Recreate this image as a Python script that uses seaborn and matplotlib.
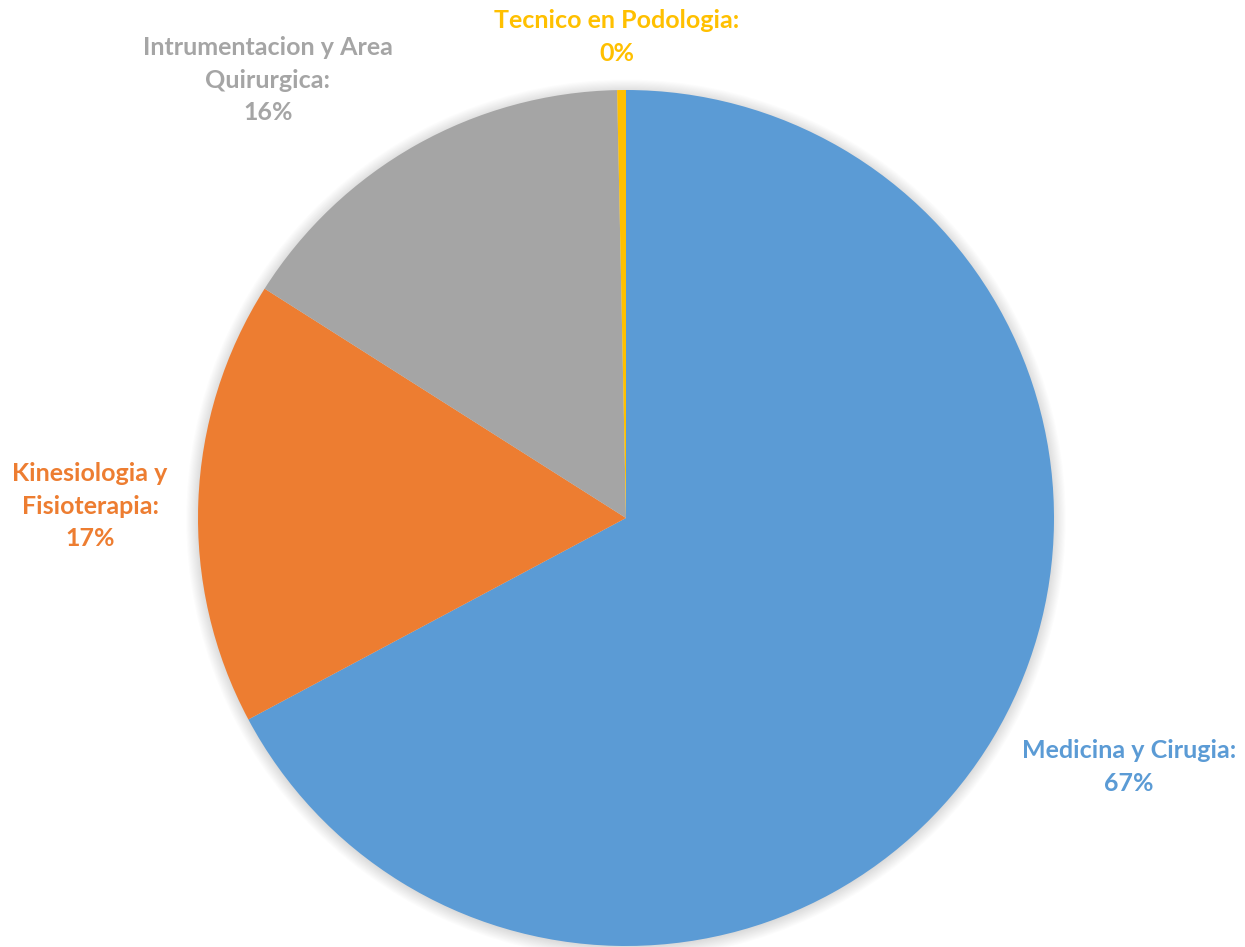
import matplotlib
matplotlib.use("Agg")
import matplotlib.pyplot as plt
from matplotlib.patches import Circle
import seaborn as sns

# datos (porcentajes)
carreras = ["Medicina y Cirugia", "Kinesiologia y\nFisioterapia",
            "Intrumentacion y Area\nQuirurgica", "Tecnico en Podologia"]
porcentajes = [67.2, 16.8, 15.67, 0.33]
etiquetas_pct = ["67%", "17%", "16%", "0%"]
colores = ["#5B9BD5", "#ED7D31", "#A5A5A5", "#FFC000"]

sns.set_theme(style="white")
plt.rcParams['font.family'] = ['Lato', 'DejaVu Sans']

W, H = 1245, 947
fig = plt.figure(figsize=(W / 100, H / 100), dpi=100)
cx, cy, r = 626, 518, 428
ax = fig.add_axes([(cx - r) / W, (H - cy - r) / H, 2 * r / W, 2 * r / H])
ax.set_xlim(-1, 1)
ax.set_ylim(-1, 1)
ax.set_aspect('equal')
ax.axis('off')

# sombra suave
for k in range(12):
    ax.add_patch(Circle((0, -0.003), 1.0 + k * 0.0025, color='black',
                        alpha=0.012, lw=0, zorder=0, clip_on=False))

ax.pie(porcentajes, colors=colores, startangle=90, counterclock=False,
       radius=1, wedgeprops=dict(linewidth=0), frame=False)
ax.set_xlim(-1, 1)
ax.set_ylim(-1, 1)

# posiciones de etiquetas (pixeles de la figura)
pos = [(1129, 767), (90, 506), (268, 80), (617, 37)]
for lab, pct, col, (px, py) in zip(carreras, etiquetas_pct, colores, pos):
    fig.text(px / W, 1 - py / H, lab + ":\n" + pct, color=col,
             fontsize=18, fontweight='bold', ha='center', va='center',
             linespacing=1.5)

fig.savefig("out.png", dpi=100)
